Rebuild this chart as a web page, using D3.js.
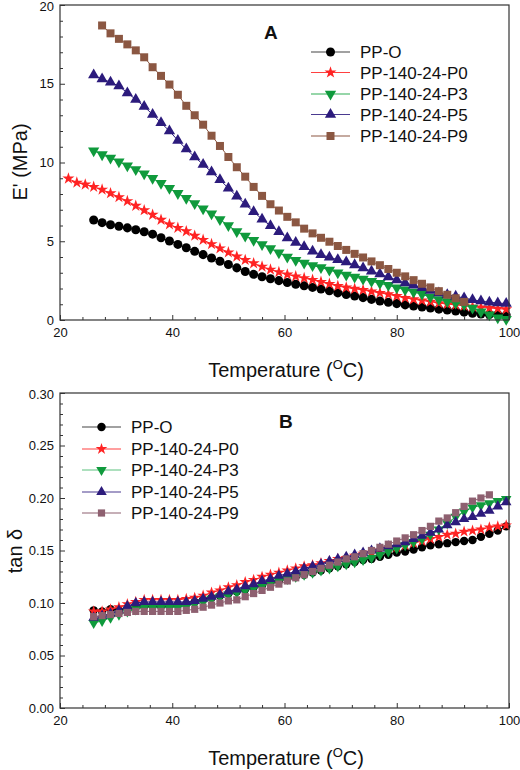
<!DOCTYPE html>
<html lang="en">
<head>
<meta charset="UTF-8">
<title>E' and tan delta vs temperature</title>
<script src="https://d3js.org/d3.v7.min.js"></script>
<style>
    body { margin: 0; background: #fff; font-family: "Liberation Sans", Arial, sans-serif; }
    svg { display: block; }
</style>
</head>
<body>
<div id="chart"></div>
<script>
// temperature grid (°C), shared by both panels
const temperature = [21.5, 23, 24.5, 26, 27.5, 29, 30.5, 32, 33.5, 35,
    36.5, 38, 39.5, 41, 42.5, 44, 45.5, 47, 48.5, 50,
    51.5, 53, 54.5, 56, 57.5, 59, 60.5, 62, 63.5, 65,
    66.5, 68, 69.5, 71, 72.5, 74, 75.5, 77, 78.5, 80,
    81.5, 83, 84.5, 86, 87.5, 89, 90.5, 92, 93.5, 95,
    96.5, 98, 99.5];

const seriesNames = ["PP-O", "PP-140-24-P0", "PP-140-24-P3", "PP-140-24-P5", "PP-140-24-P9"];

// Panel A: storage modulus E' (MPa)
const eModPPO = [null, null, null, 6.35, 6.18, 6.05, 5.95, 5.85, 5.73, 5.60,
    5.45, 5.22, 5.02, 4.80, 4.59, 4.36, 4.15, 3.94, 3.73, 3.52,
    3.31, 3.08, 2.90, 2.75, 2.62, 2.50, 2.38, 2.27, 2.17, 2.07,
    1.97, 1.86, 1.72, 1.62, 1.52, 1.42, 1.31, 1.21, 1.12, 1.04,
    0.96, 0.89, 0.82, 0.76, 0.69, 0.63, 0.57, 0.50, 0.43, 0.38,
    0.35, 0.33, 0.31];
const eModP0 = [8.98, 8.72, 8.60, 8.45, 8.28, 8.05, 7.80, 7.55, 7.25, 6.97,
    6.68, 6.36, 6.07, 5.85, 5.63, 5.35, 5.09, 4.82, 4.55, 4.29,
    4.03, 3.81, 3.60, 3.39, 3.20, 3.04, 2.89, 2.77, 2.66, 2.55,
    2.42, 2.29, 2.16, 2.06, 1.98, 1.90, 1.81, 1.72, 1.63, 1.52,
    1.40, 1.32, 1.24, 1.16, 1.07, 1.01, 0.96, 0.90, 0.85, 0.80,
    0.76, 0.72, 0.68];
const eModP3 = [null, null, null, 10.75, 10.50, 10.28, 10.05, 9.80, 9.55, 9.28,
    9.00, 8.68, 8.36, 8.04, 7.73, 7.40, 7.07, 6.75, 6.38, 6.00,
    5.62, 5.33, 5.07, 4.80, 4.54, 4.27, 4.00, 3.80, 3.62, 3.46,
    3.33, 3.18, 3.00, 2.86, 2.73, 2.60, 2.46, 2.33, 2.20, 2.05,
    1.92, 1.78, 1.63, 1.46, 1.30, 1.18, 1.08, 0.98, 0.76, 0.52,
    0.33, 0.15, 0.05];
const eModP5 = [null, null, null, 15.55, 15.30, 15.10, 14.85, 14.42, 14.00, 13.55,
    13.05, 12.52, 12.00, 11.40, 10.85, 10.35, 9.87, 9.40, 8.90, 8.37,
    7.85, 7.35, 6.87, 6.40, 5.98, 5.60, 5.20, 4.92, 4.65, 4.36,
    4.15, 3.98, 3.83, 3.68, 3.50, 3.30, 3.10, 2.92, 2.73, 2.54,
    2.35, 2.20, 2.04, 1.88, 1.72, 1.60, 1.50, 1.40, 1.28, 1.20,
    1.13, 1.08, 1.04];
const eModP9 = [null, null, null, null, 18.70, 18.20, 17.85, 17.50, 17.12, 16.68,
    16.05, 15.50, 14.95, 14.30, 13.60, 13.00, 12.40, 11.70, 11.05, 10.35,
    9.70, 9.10, 8.45, 7.88, 7.35, 6.95, 6.55, 6.20, 5.80, 5.50,
    5.22, 4.97, 4.70, 4.45, 4.20, 3.97, 3.72, 3.48, 3.24, 3.00,
    2.77, 2.53, 2.30, 2.07, 1.83, 1.60, 1.38, 1.15, null, null,
    null, null, null];

// Panel B: tan delta
const tanPPO = [null, null, null, 0.093, 0.092, 0.094, 0.093, 0.095, 0.096, 0.097,
    0.097, 0.097, 0.097, 0.098, 0.099, 0.101, 0.103, 0.105, 0.107, 0.109,
    0.111, 0.113, 0.115, 0.117, 0.119, 0.121, 0.123, 0.125, 0.127, 0.129,
    0.131, 0.133, 0.135, 0.137, 0.139, 0.141, 0.142, 0.144, 0.146, 0.148,
    0.149, 0.151, 0.153, 0.155, 0.156, 0.157, 0.158, 0.159, 0.160, 0.163,
    0.166, 0.169, 0.173];
const tanP0 = [null, null, null, 0.092, 0.092, 0.094, 0.096, 0.099, 0.101, 0.103,
    0.103, 0.103, 0.103, 0.103, 0.104, 0.105, 0.107, 0.110, 0.112, 0.115,
    0.117, 0.120, 0.122, 0.125, 0.127, 0.129, 0.131, 0.133, 0.135, 0.136,
    0.138, 0.140, 0.142, 0.143, 0.145, 0.147, 0.148, 0.150, 0.152, 0.153,
    0.155, 0.157, 0.159, 0.161, 0.163, 0.165, 0.166, 0.168, 0.169, 0.170,
    0.172, 0.173, 0.174];
const tanP3 = [null, null, null, 0.081, 0.083, 0.086, 0.089, 0.092, 0.094, 0.096,
    0.096, 0.096, 0.096, 0.096, 0.097, 0.099, 0.101, 0.104, 0.106, 0.108,
    0.110, 0.112, 0.114, 0.116, 0.119, 0.121, 0.123, 0.125, 0.127, 0.129,
    0.131, 0.133, 0.135, 0.137, 0.139, 0.141, 0.143, 0.146, 0.149, 0.152,
    0.155, 0.158, 0.161, 0.165, 0.170, 0.176, 0.182, 0.187, 0.191, 0.193,
    0.195, 0.197, 0.199];
const tanP5 = [null, null, null, 0.086, 0.088, 0.090, 0.093, 0.097, 0.100, 0.101,
    0.101, 0.101, 0.101, 0.101, 0.101, 0.102, 0.104, 0.106, 0.108, 0.111,
    0.113, 0.116, 0.118, 0.121, 0.123, 0.126, 0.128, 0.130, 0.133, 0.135,
    0.137, 0.140, 0.142, 0.144, 0.146, 0.148, 0.150, 0.152, 0.154, 0.156,
    0.158, 0.161, 0.164, 0.167, 0.170, 0.174, 0.177, 0.180, 0.182, 0.185,
    0.188, 0.192, 0.196];
const tanP9 = [null, null, null, 0.087, 0.088, 0.089, 0.090, 0.091, 0.092, 0.092,
    0.092, 0.092, 0.092, 0.092, 0.093, 0.094, 0.096, 0.098, 0.100, 0.102,
    0.103, 0.106, 0.109, 0.112, 0.115, 0.118, 0.121, 0.124, 0.127, 0.130,
    0.133, 0.136, 0.139, 0.142, 0.144, 0.147, 0.150, 0.153, 0.156, 0.159,
    0.162, 0.165, 0.169, 0.173, 0.178, 0.181, 0.186, 0.192, 0.197, 0.200,
    0.203, null, null];

const xTicks = [20, 40, 60, 80, 100];
const yTicksA = [0, 5, 10, 15, 20];
const yTicksB = [0.00, 0.05, 0.10, 0.15, 0.20, 0.25, 0.30];

const colorsA = ["#000000", "#ff2323", "#0f9a3c", "#2c1b7c", "#8b5742"];
const colorsB = ["#000000", "#ff2323", "#0f9a3c", "#2c1b7c", "#8e6070"];
const legendLineB = ["#444444", "#ff4040", "#5cc27e", "#4a3a90", "#8e6070"];

const width = 520, height = 770;
const fontFamily = '"Liberation Sans", Arial, sans-serif';

const svg = d3.select("#chart").append("svg")
    .attr("width", width)
    .attr("height", height)
    .style("font-family", fontFamily);

svg.append("rect").attr("width", width).attr("height", height).attr("fill", "#fff");

// marker shapes: circle, star, down triangle, up triangle, square
const markers = [
    { type: d3.symbolCircle, rot: 0 },
    { type: d3.symbolStar, rot: 0 },
    { type: d3.symbolTriangle, rot: 180 },
    { type: d3.symbolTriangle, rot: 0 },
    { type: d3.symbolSquare, rot: 0 }
];

function drawPanel(cfg) {
    const x = d3.scaleLinear().domain([20, 100]).range([60, 509]);
    const y = d3.scaleLinear().domain(cfg.yDomain).range([cfg.bottom, cfg.top]);
    const g = svg.append("g");

    // series: line then markers
    cfg.series.forEach((vals, i) => {
        const pts = temperature.map((t, k) => ({ t, v: vals[k] })).filter(d => d.v != null);
        g.append("path")
            .datum(pts)
            .attr("fill", "none")
            .attr("stroke", cfg.colors[i])
            .attr("stroke-width", 1)
            .attr("d", d3.line().x(d => x(d.t)).y(d => y(d.v)));
        const sym = d3.symbol().type(markers[i].type).size(cfg.sizes[i]);
        g.selectAll(null)
            .data(pts)
            .enter()
            .append("path")
            .attr("d", sym)
            .attr("fill", cfg.colors[i])
            .attr("transform", d => `translate(${x(d.t)},${y(d.v)}) rotate(${markers[i].rot})`);
    });

    // frame
    g.append("rect")
        .attr("x", 60).attr("y", cfg.top)
        .attr("width", 449).attr("height", cfg.bottom - cfg.top)
        .attr("fill", "none").attr("stroke", "#333").attr("stroke-width", 1.2);

    // axes with inward ticks
    g.append("g")
        .attr("transform", `translate(0,${cfg.bottom})`)
        .call(d3.axisBottom(x).tickValues(xTicks).tickSizeInner(-5).tickSizeOuter(0).tickPadding(8));
    g.append("g")
        .attr("transform", `translate(0,${cfg.bottom})`)
        .call(d3.axisBottom(x).tickValues(d3.range(20, 100, 4).filter(v => v % 20 !== 0))
            .tickSizeInner(-3).tickSizeOuter(0).tickFormat(""));
    const yAxis = g.append("g")
        .attr("transform", "translate(60,0)")
        .call(d3.axisLeft(y).tickValues(cfg.yTicks).tickSizeInner(-5).tickSizeOuter(0)
            .tickPadding(6).tickFormat(cfg.yFormat));
    g.append("g")
        .attr("transform", "translate(60,0)")
        .call(d3.axisLeft(y).tickValues(cfg.yMinor).tickSizeInner(-3).tickSizeOuter(0).tickFormat(""));

    g.selectAll(".domain").remove();
    g.selectAll(".tick line").attr("stroke", "#333");
    g.selectAll(".tick text").attr("font-size", 13).attr("fill", "#111").attr("font-family", fontFamily);
    // keep the topmost label inside the page
    yAxis.selectAll(".tick text").filter(d => d === cfg.yDomain[1]).attr("dy", "0.45em");

    // x title with superscript O
    const xt = g.append("text")
        .attr("x", 286).attr("y", cfg.bottom + 57)
        .attr("text-anchor", "middle")
        .attr("font-size", 20).attr("fill", "#111");
    xt.append("tspan").text("Temperature (");
    xt.append("tspan").text("O").attr("font-size", 13).attr("dy", -8);
    xt.append("tspan").text("C)").attr("dy", 8);

    // y title
    g.append("text")
        .attr("transform", `translate(${cfg.yTitleX},${cfg.yTitleY}) rotate(-90)`)
        .attr("text-anchor", "middle")
        .attr("font-size", 20).attr("fill", "#111")
        .text(cfg.yTitle);

    // panel letter
    g.append("text")
        .attr("x", cfg.letterX).attr("y", cfg.letterY)
        .attr("font-size", 19).attr("font-weight", "bold").attr("fill", "#111")
        .text(cfg.letter);

    // legend
    const lg = g.append("g");
    seriesNames.forEach((name, i) => {
        const ly = cfg.legendY[i];
        lg.append("line")
            .attr("x1", cfg.legendX).attr("x2", cfg.legendX + 39)
            .attr("y1", ly).attr("y2", ly)
            .attr("stroke", cfg.legendLine[i]).attr("stroke-width", 1.2);
        lg.append("path")
            .attr("d", d3.symbol().type(markers[i].type).size(cfg.sizes[i])())
            .attr("fill", cfg.colors[i])
            .attr("transform", `translate(${cfg.legendX + 19.5},${ly}) rotate(${markers[i].rot})`);
        lg.append("text")
            .attr("x", cfg.legendX + 49).attr("y", ly + 6)
            .attr("font-size", 17).attr("fill", "#111")
            .text(name);
    });
}

drawPanel({
    top: 5, bottom: 320,
    yDomain: [0, 20],
    yTicks: yTicksA,
    yMinor: d3.range(1, 20, 1).filter(v => v % 5 !== 0),
    yFormat: d3.format("d"),
    yTitle: "E' (MPa)", yTitleX: 27, yTitleY: 162,
    series: [eModPPO, eModP0, eModP3, eModP5, eModP9],
    colors: colorsA,
    legendLine: ["#444444", "#ff4040", "#2fae55", "#4a3a90", "#8b5742"],
    sizes: [64, 45, 55, 55, 64],
    letter: "A", letterX: 264, letterY: 39,
    legendX: 311, legendY: [52, 72.5, 94, 114.5, 136]
});

drawPanel({
    top: 393, bottom: 708,
    yDomain: [0, 0.30],
    yTicks: yTicksB,
    yMinor: d3.range(1, 30, 1).filter(v => v % 5 !== 0).map(v => v / 100),
    yFormat: d3.format(".2f"),
    yTitle: "tan δ", yTitleX: 22, yTitleY: 551,
    series: [tanPPO, tanP0, tanP3, tanP5, tanP9],
    colors: colorsB,
    legendLine: legendLineB,
    sizes: [56, 42, 48, 48, 52],
    letter: "B", letterX: 279, letterY: 428,
    legendX: 82, legendY: [427, 449, 470, 492, 513]
});
</script>
</body>
</html>
